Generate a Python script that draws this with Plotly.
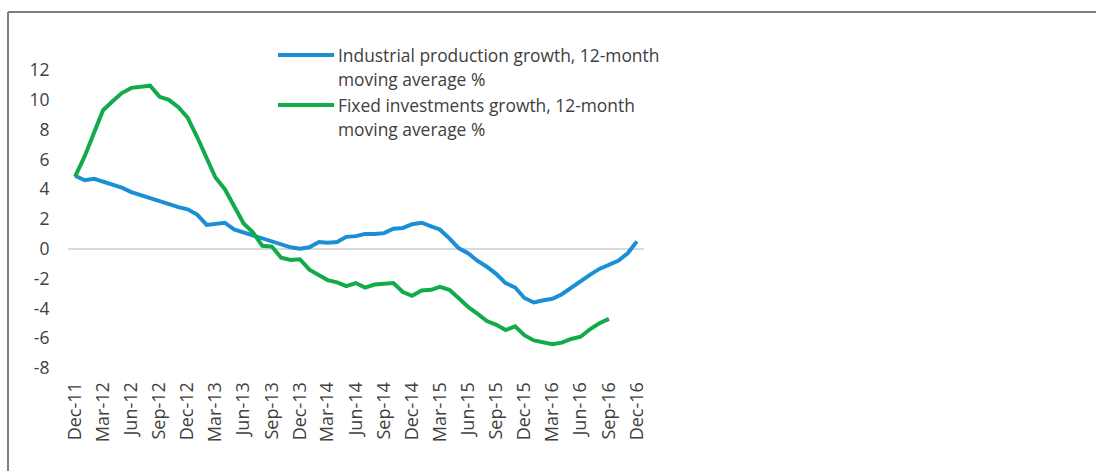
import pandas as pd
import plotly.graph_objects as go

months = pd.date_range("2011-12-01", periods=61, freq="MS")

industrial = [
    4.9, 4.6, 4.7, 4.5, 4.3, 4.1, 3.8, 3.6, 3.35, 3.15,
    3.0, 2.8, 2.65, 2.3, 1.6, 1.7, 1.75, 1.3, 1.1, 0.85,
    0.65, 0.45, 0.3, 0.1, 0.0, 0.1, 0.45, 0.4, 0.45, 0.8,
    0.85, 1.0, 1.0, 1.05, 1.35, 1.4, 1.65, 1.75, 1.5, 1.3,
    0.7, 0.05, -0.3, -0.8, -1.2, -1.7, -2.3, -2.6, -3.3, -3.6,
    -3.45, -3.35, -3.05, -2.6, -2.15, -1.75, -1.35, -1.05, -0.8, -0.3,
    0.5,
]

fixed_inv = [
    4.85, 6.2, 7.8, 9.3, 9.9, 10.45, 10.8, 10.9, 10.95, 10.2,
    10.0, 9.5, 8.8, 7.5, 6.1, 4.8, 4.0, 2.8, 1.7, 1.1,
    0.2, 0.15, -0.6, -0.75, -0.7, -1.4, -1.8, -2.1, -2.25, -2.5,
    -2.3, -2.6, -2.4, -2.35, -2.3, -2.9, -3.15, -2.8, -2.75, -2.55,
    -2.75, -3.3, -3.9, -4.35, -4.85, -5.1, -5.45, -5.2, -5.8, -6.15,
    -6.25, -6.4, -6.3, -6.05, -5.9, -5.4, -5.0, -4.7,
]

series_names = [
    ["Industrial production growth, 12-month", "moving average %"],
    ["Fixed investments growth, 12-month", "moving average %"],
]
series_colors = ["#1b8fd6", "#12ab4a"]
y_ticks = [12, 10, 8, 6, 4, 2, 0, -2, -4, -6, -8]
y_ticktext = [str(v) for v in y_ticks]

FONT = "Open Sans"
TXT = "#404040"

L, R, T, B = 68, 452, 70, 103
W, H = 1096, 471
pw = W - L - R
ph = H - T - B


def px_x(p):
    return (p - L) / pw


def px_y(p):
    return (H - B - p) / ph


fig = go.Figure()
fig.add_trace(go.Scatter(
    x=months, y=industrial, mode="lines", name=" ".join(series_names[0]),
    line=dict(color=series_colors[0], width=4), showlegend=False,
))
fig.add_trace(go.Scatter(
    x=months[:len(fixed_inv)], y=fixed_inv, mode="lines", name=" ".join(series_names[1]),
    line=dict(color=series_colors[1], width=4), showlegend=False,
))

shapes = [
    dict(type="line", xref="paper", yref="paper",
         x0=px_x(8), x1=px_x(1096), y0=px_y(12), y1=px_y(12),
         line=dict(color="#7f7f7f", width=2)),
    dict(type="line", xref="paper", yref="paper",
         x0=px_x(8), x1=px_x(8), y0=px_y(12), y1=px_y(471),
         line=dict(color="#7f7f7f", width=2)),
]
annotations = []
legend_rows = [55, 105]
for lines, col, yy in zip(series_names, series_colors, legend_rows):
    shapes.append(dict(
        type="line", xref="paper", yref="paper",
        x0=px_x(278), x1=px_x(334), y0=px_y(yy), y1=px_y(yy),
        line=dict(color=col, width=4),
    ))
    for k, txt in enumerate(lines):
        annotations.append(dict(
            xref="paper", yref="paper", x=px_x(336), y=px_y(yy + k * 24),
            xanchor="left", yanchor="middle", align="left", showarrow=False,
            text=txt, font=dict(size=17.4, color=TXT, family=FONT),
        ))

fig.update_layout(
    width=W, height=H,
    margin=dict(l=L, r=R, t=T, b=B, pad=0),
    paper_bgcolor="white", plot_bgcolor="white",
    font=dict(family=FONT, color=TXT, size=17),
    showlegend=False,
    xaxis=dict(
        type="date",
        range=["2011-11-08", "2016-12-24"],
        tickmode="linear", tick0="2011-12-01", dtick="M3",
        tickformat="%b-%y", tickangle=-90,
        showgrid=False, zeroline=False, showline=False,
        ticks="outside", ticklen=6, tickcolor="rgba(0,0,0,0)",
        tickfont=dict(size=18, color=TXT, family=FONT),
    ),
    yaxis=dict(
        range=[-8, 12],
        tickmode="array", tickvals=y_ticks, ticktext=y_ticktext,
        showgrid=False, zeroline=True, zerolinecolor="#d9d9d9", zerolinewidth=1.5,
        showline=False, ticks="outside", ticklen=14, tickcolor="rgba(0,0,0,0)",
        tickfont=dict(size=17.5, color=TXT, family=FONT),
    ),
    shapes=shapes,
    annotations=annotations,
)

fig.write_html("out.html", config={"displayModeBar": False})
